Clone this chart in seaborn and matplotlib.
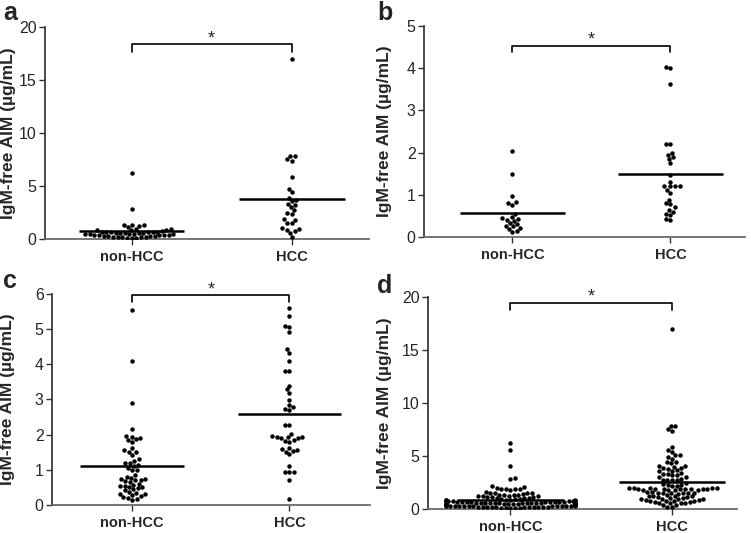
import numpy as np
import pandas as pd
import seaborn as sns
import matplotlib.pyplot as plt

groups = ["non-HCC", "HCC"]

# panel a
nonhcc_a = [6.2, 2.85, 1.35, 1.3, 1.3, 1.2, 1.1, 0.9, 0.88, 0.85, 0.85, 0.9,
            0.72, 0.70, 0.69, 0.67, 0.66, 0.64, 0.62, 0.61, 0.59, 0.57, 0.55, 0.53,
            0.51, 0.49, 0.47, 0.45, 0.43, 0.41, 0.39, 0.37, 0.35, 0.33, 0.31, 0.29,
            0.27, 0.25, 0.23, 0.21, 0.19, 0.17, 0.15, 0.13, 0.12, 0.10]
hcc_a = [17.0, 7.8, 7.85, 7.5, 7.4, 5.85, 4.75, 4.45, 3.85, 3.65, 3.55, 3.3, 3.2,
         3.0, 2.7, 2.45, 2.35, 1.85, 1.8, 1.55, 1.5, 1.0, 0.95, 0.85, 0.8, 0.6, 0.2]

# panel b
nonhcc_b = [2.03, 1.5, 0.98, 0.83, 0.80, 0.77, 0.55, 0.47, 0.44, 0.40, 0.38, 0.43,
            0.33, 0.27, 0.25, 0.30, 0.20, 0.14, 0.13, 0.22]
hcc_b = [4.03, 4.0, 3.62, 2.2, 2.2, 2.0, 1.95, 1.9, 1.85, 1.75, 1.47, 1.31, 1.2,
         1.2, 1.2, 1.2, 1.05, 1.12, 0.88, 0.8, 0.78, 0.7, 0.65, 0.6, 0.55, 0.52,
         0.42, 0.4]

# panel c
nonhcc_c = [5.53, 4.1, 2.9, 2.15, 1.97, 1.93, 1.9, 1.88, 1.85, 1.8, 1.62, 1.55,
            1.5, 1.5, 1.42, 1.3, 1.25, 1.2, 1.2, 1.15, 1.12, 1.05, 1.0, 1.0, 0.85,
            0.8, 0.78, 0.75, 0.75, 0.72, 0.7, 0.68, 0.65, 0.6, 0.58, 0.55, 0.55,
            0.52, 0.5, 0.48, 0.45, 0.42, 0.38, 0.35, 0.3, 0.3, 0.28, 0.25, 0.22,
            0.2, 0.18, 0.15]
hcc_c = [5.59, 5.38, 5.08, 5.05, 4.92, 4.43, 4.33, 4.09, 3.82, 3.81, 3.39, 3.29,
         3.19, 2.98, 2.84, 2.78, 2.72, 2.71, 2.28, 2.28, 2.02, 1.95, 1.93, 1.92,
         1.90, 1.90, 1.94, 1.84, 1.82, 1.80, 1.62, 1.60, 1.55, 1.52, 1.54, 1.45,
         1.12, 0.95, 0.94, 0.93, 0.72, 0.18]

# panel d = all cohorts pooled
nonhcc_d = nonhcc_a + nonhcc_b + nonhcc_c
hcc_d = hcc_a + hcc_b + hcc_c

sns.set_theme(style="ticks")
plt.rcParams['font.family'] = ['Liberation Sans', 'DejaVu Sans']

W, H = 751, 533
fig = plt.figure(figsize=(W / 100, H / 100), dpi=100)

panels = [
    # letter, nonhcc, hcc, rect, ymax, yticks, xlim, bracket (top, drop, star), ylabel x, letter pos (px)
    ("a", nonhcc_a, hcc_a, [0.060, 0.5516, 0.431, 0.398], 20, [0, 5, 10, 15, 20],
     (-0.54, 1.48), (18.4, 17.6, 18.9), -0.09, (3, 20)),
    ("b", nonhcc_b, hcc_b, [0.5646, 0.5553, 0.427, 0.396], 5, [0, 1, 2, 3, 4, 5],
     (-0.56, 1.47), (4.53, 4.39, 4.67), -0.10, (377, 20)),
    ("c", nonhcc_c, hcc_c, [0.0692, 0.0525, 0.423, 0.396], 6, [0, 1, 2, 3, 4, 5, 6],
     (-0.51, 1.51), (5.97, 5.77, 6.1), -0.116, (3, 288)),
    ("d", nonhcc_d, hcc_d, [0.570, 0.045, 0.411, 0.398], 20, [0, 5, 10, 15, 20],
     (-0.51, 1.40), (19.4, 18.8, 20.0), -0.117, (377, 293)),
]

for letter, nh, h, rect, ymax, yticks, xlim, br, ylx, lpos in panels:
    ax = fig.add_axes(rect)
    df = pd.DataFrame({"group": ["non-HCC"] * len(nh) + ["HCC"] * len(h),
                       "value": nh + h})
    sns.swarmplot(data=df, x="group", y="value", order=groups, color="black",
                  size=3.2, ax=ax, warn_thresh=1)
    # mean lines
    for i, vals in enumerate([nh, h]):
        ax.hlines(np.mean(vals), i - 0.33, i + 0.33, color="black", lw=1.8, zorder=5)
    # significance bracket
    top, drop, star = br
    ax.plot([0, 0, 1, 1], [drop, top, top, drop], color="black", lw=1.2, clip_on=False)
    ax.text(0.5, star, "*", ha="center", va="center", fontsize=13, clip_on=False)

    ax.set_xlim(*xlim)
    ax.set_ylim(0, ymax)
    ax.set_yticks(yticks)
    ax.set_xlabel("")
    ax.set_ylabel("IgM-free AIM (µg/mL)", fontsize=12.5, fontweight="bold")
    ax.yaxis.set_label_coords(ylx, 0.5)
    ax.tick_params(axis="y", labelsize=11.5, length=4, width=1, color="#333333", pad=2)
    ax.tick_params(axis="x", labelsize=10.5, length=4, width=1, color="#333333", pad=4)
    for lbl in ax.get_xticklabels():
        lbl.set_fontweight("bold")
    sns.despine(ax=ax)
    ax.spines["left"].set_color("#333333")
    ax.spines["bottom"].set_color("#666666")
    fig.text(lpos[0] / W, 1 - lpos[1] / H, letter, fontsize=18, fontweight="bold",
             ha="left", va="baseline")

fig.savefig("out.png", dpi=100)
